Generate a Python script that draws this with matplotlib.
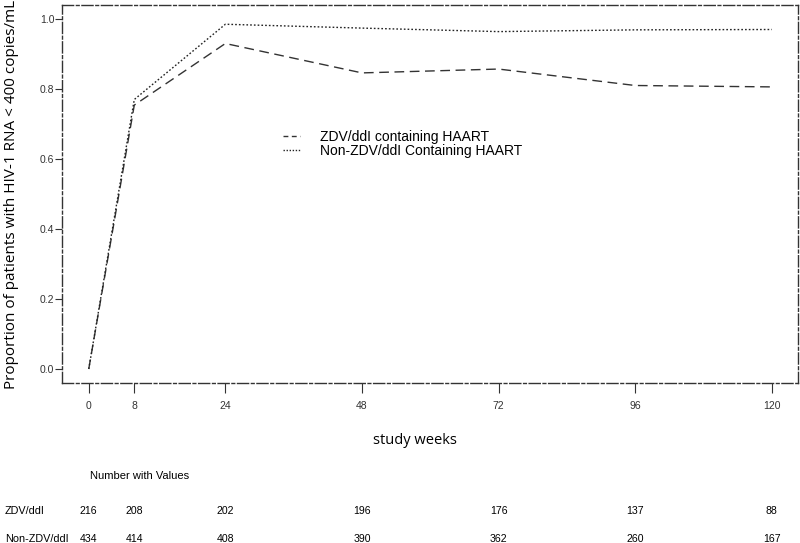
import matplotlib
matplotlib.use("Agg")
import matplotlib.pyplot as plt
import matplotlib.transforms as mtransforms

weeks = [0, 8, 24, 48, 72, 96, 120]
zdv = [0.0, 0.754, 0.930, 0.846, 0.857, 0.810, 0.806]
non_zdv = [0.0, 0.770, 0.985, 0.974, 0.964, 0.969, 0.970]
n_zdv = [216, 208, 202, 196, 176, 137, 88]
n_non = [434, 414, 408, 390, 362, 260, 167]
yticks = [0.0, 0.2, 0.4, 0.6, 0.8, 1.0]

fig = plt.figure(figsize=(8, 5.43), dpi=100)
ax = fig.add_axes([62/800, 1-383/543, (798-62)/800, (383-5)/543])

ax.plot(weeks, zdv, color="#333333", lw=1.0, linestyle=(0, (7, 4)), label="ZDV/ddI containing HAART")
ax.plot(weeks, non_zdv, color="#222222", lw=1.0, linestyle=(0, (1.2, 1.5)), label="Non-ZDV/ddI Containing HAART")

ax.set_xlim(-4.7, 124.6)
ax.set_ylim(-0.04, 1.04)
ax.set_xticks(weeks)
ax.set_xticklabels([str(w) for w in weeks], fontfamily="Liberation Sans", fontsize=7.5)
ax.set_yticks(yticks)
ax.set_yticklabels([f"{v:.1f}" for v in yticks], fontfamily="Liberation Sans", fontsize=7.5)
ax.tick_params(axis="x", direction="out", length=7, width=0.8, pad=6, colors="#333333")
ax.tick_params(axis="y", direction="out", length=5, width=0.8, pad=0.5, colors="#333333")

for s in ax.spines.values():
    s.set_linestyle((0, (8, 2, 2, 2)))
    s.set_color("#333333")
    s.set_linewidth(1.0)

ax.set_ylabel("Proportion of patients with HIV-1 RNA < 400 copies/mL", fontfamily="Open Sans",
              fontsize=11)
ax.yaxis.set_label_coords((19-62)/736, 0.5)

leg = ax.legend(loc="upper left", bbox_to_anchor=((283-62)/736, 1-(130-5)/378), frameon=False,
                prop={"family": "Liberation Sans", "size": 10}, handlelength=1.25,
                handletextpad=1.45, labelspacing=0.0, borderpad=0, borderaxespad=0)
leg.get_lines()[0].set_linestyle((0, (3.5, 2.5)))
leg.get_lines()[1].set_linestyle((0, (1, 1.2)))

fig.text(415/800, 1-440/543, "study weeks", fontfamily="Open Sans", fontsize=10.5,
         ha="center", va="center")
fig.text(90/800, 1-476/543, "Number with Values", fontfamily="Liberation Sans", fontsize=8,
         ha="left", va="center")
fig.text(5/800, 1-511/543, "ZDV/ddI", fontfamily="Liberation Sans", fontsize=7.8,
         ha="left", va="center")
fig.text(5/800, 1-539/543, "Non-ZDV/ddI", fontfamily="Liberation Sans", fontsize=7.8,
         ha="left", va="center")
blend = mtransforms.blended_transform_factory(ax.transData, fig.transFigure)
for w, a, b in zip(weeks, n_zdv, n_non):
    fig.text(w, 1-511/543, str(a), transform=blend, fontfamily="Liberation Sans", fontsize=7.6,
             ha="center", va="center")
    fig.text(w, 1-539/543, str(b), transform=blend, fontfamily="Liberation Sans", fontsize=7.6,
             ha="center", va="center")

fig.savefig("out.png", dpi=100)
